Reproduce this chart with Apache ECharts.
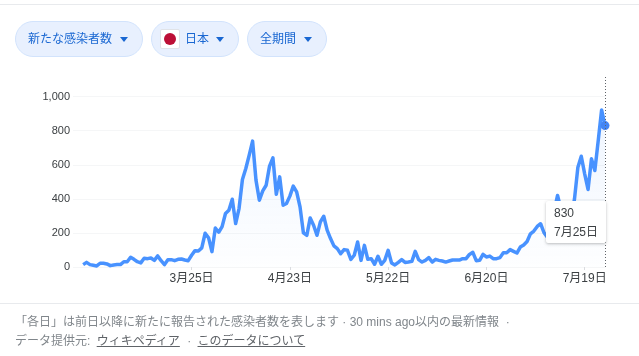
<!DOCTYPE html>
<html>
<head>
<meta charset="utf-8">
<style>
html, body { margin: 0; padding: 0; background: #fff; }
body { width: 639px; height: 356px; overflow: hidden; position: relative; font-family: "Liberation Sans", "Noto Sans CJK JP", sans-serif; }
#chart { position: absolute; left: 0; top: 0; width: 639px; height: 356px; }
.rule { position: absolute; left: 0; width: 639px; height: 1px; background: #e8eaed; }
.chip { position: absolute; top: 21px; height: 34px; line-height: 34px; background: #e8f0fe; border: 1px solid #d2e3fc; border-radius: 18px; color: #1967d2; font-size: 12px; box-sizing: content-box; }
.chip span { position: absolute; top: 0; white-space: nowrap; }
.chip i { position: absolute; top: 15px; width: 0; height: 0; border-left: 4.5px solid transparent; border-right: 4.5px solid transparent; border-top: 5px solid #1967d2; }
.flag { position: absolute; left: 8px; top: 7px; width: 20px; height: 20px; background: #fff; border: 1px solid #e0e3e8; border-radius: 2px; box-sizing: border-box; }
.flag b { position: absolute; left: 3px; top: 3px; width: 12px; height: 12px; border-radius: 50%; background: #bc0f36; }
.note { position: absolute; left: 15px; font-size: 12px; color: #80868b; white-space: nowrap; line-height: 16px; }
.note u { color: #5f6368; margin: 0 4px 0 3px; }
</style>
</head>
<body>
<div id="chart"></div>
<div class="rule" style="top:4px"></div>
<div class="rule" style="top:303px"></div>
<div class="chip" style="left:15px;width:126px"><span style="left:12px">新たな感染者数</span><i style="left:104px"></i></div>
<div class="chip" style="left:151px;width:86px"><div class="flag"><b></b></div><span style="left:33px">日本</span><i style="left:64px"></i></div>
<div class="chip" style="left:247px;width:78px"><span style="left:12px">全期間</span><i style="left:56px"></i></div>
<div class="note" style="top:314px">「各日」は前日以降に新たに報告された感染者数を表します · 30 mins ago以内の最新情報 &nbsp;·</div>
<div class="note" style="top:333px">データ提供元: <u>ウィキペディア</u> · <u>このデータについて</u></div>
<script src="https://cdn.jsdelivr.net/npm/echarts@6/dist/echarts.min.js"></script>
<script>
// 2月22日から7月25日までの新規感染者数
var values = [
    14, 27, 14, 10, 6, 22, 22, 18, 8, 12, 14, 14, 31, 31, 57, 45, 31, 24, 51, 49, 53, 39, 65, 37, 14, 43, 43, 37, 45, 47, 41, 37,
    69, 96, 94, 112, 198, 172, 90, 229, 204, 237, 314, 333, 398, 255, 343, 514, 578, 657, 739,
    510, 392, 447, 480, 592, 641, 427, 529, 363, 373, 416, 475, 441, 353, 200, 186, 288, 245, 186, 265, 298, 216, 167, 124, 108, 78, 102, 98, 45, 69, 147, 39, 127, 45, 49, 16, 63, 16, 39, 98,
    24, 12, 27, 43, 27, 29, 33, 92, 43, 29, 39, 55, 29, 45, 39, 35, 29, 35, 41, 41, 41, 49, 49, 74, 86, 37, 39, 74, 59,
    64, 49, 49, 55, 84, 84, 102, 92, 82, 117, 129, 150, 195, 211, 238, 254, 201, 175, 210, 330, 420, 340, 260, 210, 280, 400, 586, 650, 547, 455, 635, 566, 742, 922, 830
];
var xTicks = ['3月25日', '4月23日', '5月22日', '6月20日', '7月19日'];
var yMax = 1127; // 点線が1,000より上まで伸びるので少し余白
var leadDays = 3; // 最初の点の左にグリッドだけ伸びている分

var days = [];
var d = new Date(2020, 1, 22 - leadDays);
for (var i = 0; i < values.length + leadDays; i++) {
    days.push((d.getMonth() + 1) + '月' + d.getDate() + '日');
    d.setDate(d.getDate() + 1);
}
var lineData = [];
for (var j = 0; j < leadDays; j++) {
    lineData.push(null);
}
lineData = lineData.concat(values);
var lastDay = days[days.length - 1];
var lastValue = values[values.length - 1];

var font = '"Liberation Sans", "Noto Sans CJK JP", sans-serif';
var myChart = echarts.init(document.getElementById('chart'), null, { renderer: 'canvas' });

function isTick(index, name) {
    return xTicks.indexOf(name) >= 0;
}

myChart.setOption({
    animation: false,
    grid: { left: 73, right: 34, top: 75, bottom: 89, containLabel: false },
    tooltip: {
        trigger: 'axis',
        alwaysShowContent: true,
        transitionDuration: 0,
        position: [546, 201],
        padding: [3, 8],
        backgroundColor: '#fff',
        borderWidth: 0,
        extraCssText: 'box-shadow:0 1px 3px rgba(60,64,67,.35);border-radius:2px;width:60px;height:42px;box-sizing:border-box;',
        textStyle: { color: '#3c4043', fontSize: 12, fontFamily: font },
        axisPointer: {
            type: 'line',
            lineStyle: { color: '#5f6368', width: 1, type: [1, 2] }
        },
        formatter: function (params) {
            return '<div style="line-height:19px">' + params[0].value + '<br>' + params[0].name + '</div>';
        }
    },
    xAxis: {
        type: 'category',
        boundaryGap: false,
        data: days,
        axisLine: { show: false },
        axisTick: { show: true, interval: isTick, length: 3, lineStyle: { color: '#dadce0' } },
        axisLabel: { interval: isTick, margin: 6, color: '#3c4043', fontSize: 12, fontFamily: font, hideOverlap: false }
    },
    yAxis: {
        type: 'value',
        min: 0,
        max: yMax,
        interval: 200,
        axisLine: { show: false },
        axisTick: { show: false },
        axisLabel: { margin: 3, color: '#3c4043', fontSize: 11, padding: [2, 0, 0, 0], fontFamily: font, showMaxLabel: false },
        splitLine: { show: true, showMaxLine: false, lineStyle: { color: '#f5f6f7', width: 1 } }
    },
    series: [{
        name: '新たな感染者数',
        type: 'line',
        data: lineData,
        showSymbol: false,
        symbol: 'none',
        connectNulls: false,
        lineStyle: { color: '#4285f4', width: 3.5, join: 'round' },
        areaStyle: {
            color: {
                type: 'linear', x: 0, y: 0, x2: 0, y2: 1,
                colorStops: [
                    { offset: 0, color: 'rgba(66,133,244,0.12)' },
                    { offset: 1, color: 'rgba(66,133,244,0.01)' }
                ]
            }
        },
        markPoint: {
            symbol: 'circle',
            symbolSize: 9,
            itemStyle: { color: '#4285f4' },
            label: { show: false },
            data: [{ coord: [lastDay, lastValue] }]
        }
    }]
});

myChart.dispatchAction({ type: 'showTip', seriesIndex: 0, dataIndex: days.length - 1 });
</script>
</body>
</html>
